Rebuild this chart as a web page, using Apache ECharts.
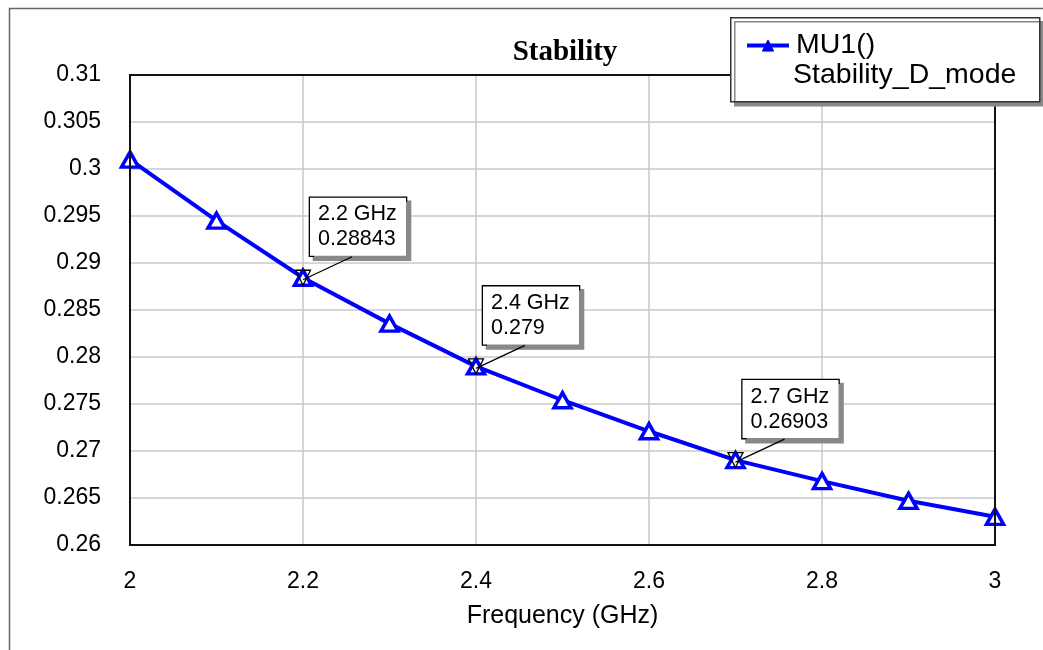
<!DOCTYPE html>
<html>
<head>
<meta charset="utf-8">
<script src="https://cdn.jsdelivr.net/npm/echarts@6/dist/echarts.min.js"></script>
<style>html,body{margin:0;padding:0;background:#fff}#c{width:1043px;height:650px}</style>
</head>
<body>
<div id="c"></div>
<script>
// ---- data ----
const freqGHz = [2.0, 2.1, 2.2, 2.3, 2.4, 2.5, 2.6, 2.7, 2.8, 2.9, 3.0];
const mu1 = [0.3010, 0.2945, 0.28843, 0.28355, 0.279, 0.2754, 0.2721, 0.26903, 0.2668, 0.2647, 0.2630];
const markerFreq = [2.2, 2.4, 2.7];
const markerVal = [0.28843, 0.279, 0.26903];
const markerText = ['2.2 GHz\n0.28843', '2.4 GHz\n0.279', '2.7 GHz\n0.26903'];
const seriesName = 'MU1()';
const legendSub = 'Stability_D_mode';
const chartTitle = 'Stability';
const xTitle = 'Frequency (GHz)';

const chart = echarts.init(document.getElementById('c'), null, {renderer: 'canvas'});
const FONT = 'Liberation Sans, Arial, sans-serif';
const BLUE = '#0000ff';
const BOX_DX = 7, BOX_DY = -80, BOX_H = 58, LEAD_DX = 49;

const baseGraphics = [
  {type: 'rect', left: 7, top: 6, shape: {width: 1060, height: 670}, style: {fill: 'none', stroke: '#666', lineWidth: 1.5}, z: 0, silent: true},
  {type: 'rect', left: 730, top: 17, shape: {width: 309, height: 84}, style: {fill: '#fff', stroke: '#333', lineWidth: 1.5, shadowColor: '#888', shadowOffsetX: 4, shadowOffsetY: 4, shadowBlur: 0}, z: 15, silent: true},
  {type: 'text', left: 793, top: 61, style: {text: legendSub, fontFamily: FONT, fontSize: 28.5, fill: '#000'}, z: 21, silent: true}
];

chart.setOption({
  animation: false,
  backgroundColor: '#fff',
  title: {
    text: chartTitle,
    left: 560, textAlign: 'center', top: 33,
    textStyle: {fontFamily: 'Liberation Serif, Times New Roman, serif', fontWeight: 'bold', fontSize: 29, color: '#000'}
  },
  grid: {left: 130, right: 48, top: 75, bottom: 105, show: true, borderColor: '#111', borderWidth: 2, backgroundColor: 'transparent', z: 4},
  xAxis: {
    type: 'value', min: 2, max: 3, interval: 0.2,
    name: xTitle, nameLocation: 'middle', nameGap: 59,
    nameTextStyle: {fontFamily: FONT, fontSize: 25, color: '#000'},
    axisLine: {show: false}, axisTick: {show: false},
    axisLabel: {fontFamily: FONT, fontSize: 23, color: '#000', margin: 25,
      formatter: v => String(+v.toFixed(2))},
    splitLine: {show: true, showMinLine: false, showMaxLine: false, lineStyle: {color: '#c8c8c8', width: 1.5}}
  },
  yAxis: {
    type: 'value', min: 0.26, max: 0.31, interval: 0.005,
    axisLine: {show: false}, axisTick: {show: false},
    axisLabel: {fontFamily: FONT, fontSize: 23, color: '#000', margin: 29,
      formatter: v => String(+v.toFixed(3))},
    splitLine: {show: true, showMinLine: false, showMaxLine: false, lineStyle: {color: '#c8c8c8', width: 1.5}}
  },
  legend: {
    show: true, data: [seriesName], left: 740, top: 26, itemWidth: 42, itemHeight: 14, itemGap: 0,
    itemStyle: {color: BLUE, borderColor: BLUE, borderWidth: 1},
    lineStyle: {width: 4},
    textStyle: {fontFamily: FONT, fontSize: 28.5, color: '#000', padding: [0, 0, 0, 2]}, z: 20
  },
  graphic: baseGraphics,
  series: [
    {
      name: seriesName, type: 'line',
      data: freqGHz.map((f, i) => [f, mu1[i]]),
      symbol: 'triangle', symbolSize: [17, 15], showAllSymbol: true,
      lineStyle: {color: BLUE, width: 4},
      itemStyle: {color: '#fff', borderColor: BLUE, borderWidth: 3.5},
      clip: false, z: 3
    },
    {
      name: 'markers', type: 'scatter',
      data: markerFreq.map((f, i) => ({value: [f, markerVal[i]], label: {formatter: markerText[i]}})),
      symbol: 'triangle', symbolRotate: 180, symbolSize: 15,
      itemStyle: {color: 'rgba(0,0,0,0)', borderColor: '#000', borderWidth: 1.3, opacity: 1},
      label: {
        show: true, fontFamily: FONT, fontSize: 21.5, lineHeight: 25, color: '#000', opacity: 1,
        backgroundColor: '#ffffff', borderColor: '#000', borderWidth: 1.3,
        padding: [4, 7, 4, 8], width: 81,
        shadowColor: '#888', shadowOffsetX: 4, shadowOffsetY: 4, shadowBlur: 0
      },
      emphasis: {disabled: true},
      labelLayout: function (p) {
        const cx = p.rect.x + p.rect.width / 2;
        const cy = p.rect.y + p.rect.height / 2;
        return {x: cx + BOX_DX, y: cy + BOX_DY, align: 'left', verticalAlign: 'top'};
      },
      z: 6
    }
  ]
});

// leader lines from each marker to its callout box, placed via the chart's own scales
const leaders = markerFreq.map((f, i) => {
  const p = chart.convertToPixel({gridIndex: 0}, [f, markerVal[i]]);
  return {type: 'line', shape: {x1: p[0], y1: p[1] + 2, x2: p[0] + LEAD_DX, y2: p[1] + BOX_DY + BOX_H + 1},
    style: {stroke: '#000', lineWidth: 1.3}, z: 7, silent: true};
});
chart.setOption({graphic: baseGraphics.concat(leaders)}, {replaceMerge: ['graphic']});
</script>
</body>
</html>
